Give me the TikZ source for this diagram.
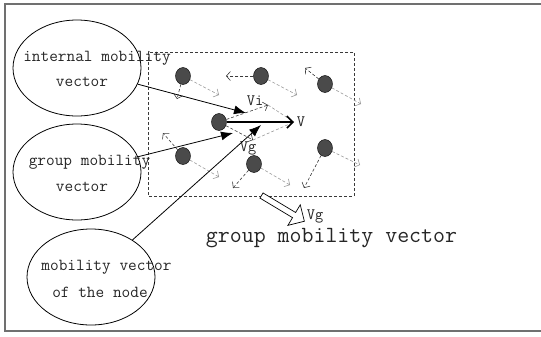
\documentclass[tikz,border=0pt]{standalone}
\usepackage{fontspec}
\usetikzlibrary{arrows.meta,shapes.geometric}
\definecolor{dotfill}{HTML}{4A4A4A}
\definecolor{darkdash}{HTML}{3A3A3A}
\definecolor{lightdash}{HTML}{9A9A9A}
\definecolor{framegray}{HTML}{707070}
\begin{document}
\begin{tikzpicture}[x=1bp,y=-1bp,
  dot/.style={ellipse,draw=black,fill=dotfill,minimum width=15bp,minimum height=17bp,inner sep=0pt},
  ell/.style={ellipse,draw=black,line width=0.8pt,minimum width=128bp,minimum height=96bp,inner sep=0pt},
  eltext/.style={font=\ttfamily\fontsize{16.9}{18}\selectfont,text=black!85,inner sep=0pt},
  lbl/.style={font=\ttfamily\fontsize{16}{18}\selectfont,text=black!85,inner sep=0pt},
  darkarrow/.style={draw=darkdash,dash pattern=on 3bp off 2bp,line width=0.6pt,-{Straight Barb[length=4bp,width=9bp]}},
  lightarrow/.style={draw=lightdash,dash pattern=on 3bp off 2bp,line width=0.6pt,-{Straight Barb[length=4bp,width=9bp]}},
  lightline/.style={draw=lightdash,dash pattern=on 3bp off 2bp,line width=0.6pt},
  pointer/.style={draw=black,line width=0.8pt,-{Latex[length=12bp,width=9bp]}},
]
\useasboundingbox (0,0) rectangle (541,336);
% outer frame (open on the right)
\draw[framegray,line width=1.5pt] (541,4) -- (5,4) -- (5,331) -- (541,331);
% group area
\draw[darkdash,dash pattern=on 3bp off 2bp,line width=0.7pt] (148,52) rectangle (354,196);
% ellipses
\node[ell] (e1) at (77,68) {};
\node[ell] (e2) at (77,172) {};
\node[ell] (e3) at (91,277) {};
\node[eltext] (e1a) at (97,58) {internal mobility};
\node[eltext] (e1b) at (82,82) {vector};
\node[eltext] (e2a) at (89.5,162) {group mobility};
\node[eltext] (e2b) at (82,187) {vector};
\node[eltext] (e3a) at (106.5,267) {mobility vector};
\node[eltext] (e3b) at (100,292) {of the node};
% mobile nodes
\node[dot] (n1) at (183,76) {};
\node[dot] (n2) at (261,76) {};
\node[dot] (n3) at (325,84) {};
\node[dot] (n4) at (219,122) {};
\node[dot] (n5) at (183,156) {};
\node[dot] (n6) at (254,164) {};
\node[dot] (n7) at (325,148) {};
% arrow end points
\coordinate (a1) at (177,99);  \coordinate (b1) at (219,95);
\coordinate (a2) at (226,76);  \coordinate (b2) at (297,95);
\coordinate (a3) at (305,68);  \coordinate (b3) at (361,104);
\coordinate (a5) at (163,133); \coordinate (b5) at (219,177);
\coordinate (a6) at (233,188); \coordinate (b6) at (290,185);
\coordinate (a7) at (304,188); \coordinate (b7) at (360,165);
\coordinate (vi) at (268,105);
\coordinate (vg) at (253,140);
\coordinate (v) at (294,122);
\coordinate (t1) at (246,113);
\coordinate (t2) at (233,133);
\coordinate (t3) at (261,125);
% per-node vectors
\foreach \i in {1,2,3,5,6,7}{
  \draw[darkarrow] (n\i) -- (a\i);
  \draw[lightarrow] (n\i) -- (b\i);
}
% vector composition at n4
\draw[lightline] (vi) -- (v);
\draw[lightline] (vg) -- (v);
\draw[darkarrow] (n4) -- (vi);
\draw[darkarrow] (n4) -- (vg);
\draw[black,line width=1.6pt,-{Straight Barb[length=6bp,width=12bp]}] (n4) -- (v);
\node[lbl] (lvi) at (255,101) {Vi};
\node[lbl] (lv) at (301,122) {V};
\node[lbl] (lvg) at (248,148) {Vg};
% pointers from ellipses
\draw[pointer] (e1) -- (t1);
\draw[pointer] (e2) -- (t2);
\draw[pointer] (e3) -- (t3);
% hollow block arrow
\draw[black,line width=0.7pt,fill=white,shift={(261.5,195.5)},rotate=-31]
  (0,-3) -- (38,-3) -- (38,-12) -- (50,0) -- (38,12) -- (38,3) -- (0,3) -- cycle;
\node[lbl] (lvg2) at (315,216) {Vg};
\node[font=\ttfamily\fontsize{23.3}{25}\selectfont,text=black!85,inner sep=0pt] (gmv) at (331.5,238) {group mobility vector};
\end{tikzpicture}
\end{document}
